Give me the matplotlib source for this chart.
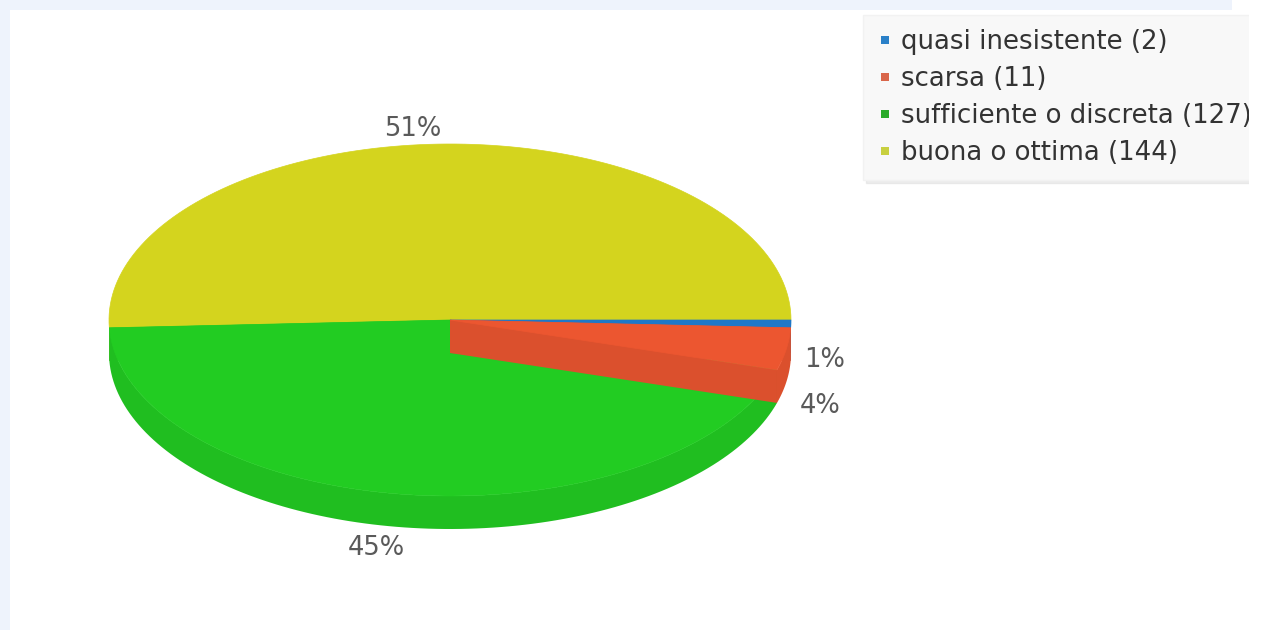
import numpy as np
import matplotlib.pyplot as plt
from matplotlib.patches import Polygon, Rectangle
from matplotlib.lines import Line2D
from matplotlib.colors import to_rgb

# risposte
categorie = ['quasi inesistente', 'scarsa', 'sufficiente o discreta', 'buona o ottima']
valori = [2, 11, 127, 144]
colori = ['#1f78c8', '#ec5630', '#22cc22', '#d4d41e']
colori_leg = ['#2a80c8', '#d9664a', '#2aaa2a', '#c8d040']

# geometria della torta (pixel)
cx, cy = 450, 320
rx, ry = 341, 176
depth = 33

fig = plt.figure(figsize=(12.62, 6.30), dpi=100)
ax = fig.add_axes([0, 0, 1, 1])
ax.set_xlim(0, 1262)
ax.set_ylim(630, 0)
ax.axis('off')

# cornice azzurra in alto e a sinistra
ax.add_patch(Rectangle((0, 0), 1232, 10, color='#eef3fc', lw=0, zorder=0))
ax.add_patch(Rectangle((0, 0), 10, 630, color='#eef3fc', lw=0, zorder=0))


def arco(t0, t1, n=120):
    t = np.radians(np.linspace(t0, t1, n))
    return np.column_stack([cx + rx * np.cos(t), cy - ry * np.sin(t)])


def scuro(c, f=0.93):
    return tuple(v * f for v in to_rgb(c))


totale = sum(valori)
cum = np.concatenate([[0], np.cumsum(valori)])
angoli = [(-cum[i] * 360 / totale, -cum[i + 1] * 360 / totale) for i in range(len(valori))]

# ordine di disegno: prima le fette dietro
ordine = [3, 2, 0, 1]
for i in ordine:
    t_a, t_b = angoli[i]
    col = colori[i]
    lato = scuro(col)
    # pareti radiali
    for t in (t_a, t_b):
        p = arco(t, t, 1)[0]
        ax.add_patch(Polygon([(cx, cy), p, (p[0], p[1] + depth), (cx, cy + depth)],
                             closed=True, fc=lato, ec='none', zorder=2))
    # parete esterna sul davanti
    lo, hi = max(t_b, -180), min(t_a, 0)
    if lo < hi:
        sup = arco(hi, lo)
        inf = arco(lo, hi) + [0, depth]
        ax.add_patch(Polygon(np.vstack([sup, inf]), closed=True, fc=lato, ec='none', zorder=2))
    # faccia superiore
    top = np.vstack([[cx, cy], arco(t_a, t_b)])
    ax.add_patch(Polygon(top, closed=True, fc=col, ec=col, lw=0.5, zorder=2))

# etichette percentuali
ultimo_y = -1e9
for i in range(len(valori)):
    t_a, t_b = angoli[i]
    m = np.radians((t_a + t_b) / 2)
    x = cx + rx * 1.1 * np.cos(m)
    y = cy - ry * 1.1 * np.sin(m)
    if np.sin(m) < 0:
        y += depth
    ha = 'right' if np.cos(m) < 0 else 'center'
    if np.cos(m) > 0:
        y = max(y, ultimo_y + 46)
        ultimo_y = y
    pct = 100 * valori[i] / totale
    ax.text(x, y + 3, f'{pct:.0f}%', ha=ha, va='center', fontsize=18.5, color='#5a5a5a', zorder=4)

handles = [Line2D([], [], marker='s', ls='', markersize=5.5, color=c, markeredgewidth=0)
           for c in colori_leg]
etichette = [f'{c} ({v})' for c, v in zip(categorie, valori)]
leg = ax.legend(handles, etichette, loc='upper left', bbox_to_anchor=(863, 15),
                bbox_transform=ax.transData, borderaxespad=0, fontsize=18.7,
                handlelength=0.6, handletextpad=0.3, labelspacing=0.42, borderpad=0.55,
                frameon=True, fancybox=False, shadow={'color': '#dcdcdc'})
leg.get_frame().set_facecolor('#f8f8f8')
leg.get_frame().set_edgecolor('#f2f2f2')
for t in leg.get_texts():
    t.set_color('#333333')

# bordo destro bianco
ax.add_patch(Rectangle((1249, 0), 13, 630, color='white', lw=0, zorder=10))

fig.savefig('out.png', dpi=100)
